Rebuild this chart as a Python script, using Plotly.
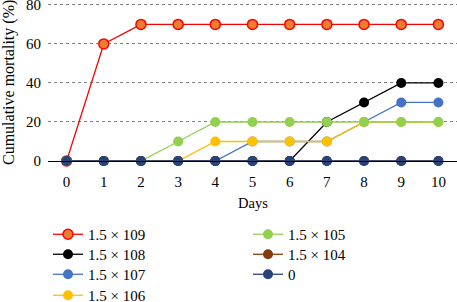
import plotly.graph_objects as go

days = list(range(11))
names = ["1.5 × 109", "1.5 × 108", "1.5 × 107", "1.5 × 106", "1.5 × 105", "1.5 × 104", "0"]
s109 = [0, 60, 70, 70, 70, 70, 70, 70, 70, 70, 70]
s108 = [0, 0, 0, 0, 0, 0, 0, 20, 30, 40, 40]
s107 = [0, 0, 0, 0, 0, 10, 10, 10, 20, 30, 30]
s106 = [0, 0, 0, 0, 10, 10, 10, 10, 20, 20, 20]
s105 = [0, 0, 0, 10, 20, 20, 20, 20, 20, 20, 20]
s104 = [0, 0, 0, 0, 0, 0, 0, 0, 0, 0, 0]
s0 = [0, 0, 0, 0, 0, 0, 0, 0, 0, 0, 0]
series = [s109, s108, s107, s106, s105, s104, s0]
y_ticks = [0, 20, 40, 60, 80]
line_colors = ["#FF0000", "#000000", "#4472C4", "#FFC000", "#92D050", "#843C0C", "#264478"]
fill_colors = ["#ED7D31", "#000000", "#4472C4", "#FFC000", "#92D050", "#843C0C", "#264478"]

FONT = "Liberation Serif"
W, H = 457, 302
L, R, T, B = 48, 0, 1, 141
PW, PH = W - L - R, H - T - B
leg_x = [48, 48, 48, 48, 248, 248, 248]
leg_y = [218, 238, 258, 279, 218, 238, 258]

fig = go.Figure()
layout_leg = {}
for i, (n, ys) in enumerate(zip(names, series)):
    key = "legend" if i == 0 else f"legend{i+1}"
    fig.add_trace(go.Scatter(
        x=days, y=ys, name=n, mode="lines+markers",
        line=dict(color=line_colors[i], width=1.3),
        marker=dict(size=10, color=fill_colors[i],
                    line=dict(color=line_colors[i], width=1.5 if i == 0 else 0)),
        cliponaxis=False,
        legend=key,
    ))
    layout_leg[key] = dict(xref="container", yref="container",
                           x=leg_x[i] / W, y=1 - leg_y[i] / H,
                           xanchor="left", yanchor="top",
                           bgcolor="rgba(0,0,0,0)",
                           font=dict(family=FONT, size=15))

fig.update_layout(
    width=W, height=H,
    margin=dict(l=L, r=R, t=T, b=B, autoexpand=False),
    paper_bgcolor="white", plot_bgcolor="white",
    font=dict(family=FONT, size=15, color="#000000"),
    showlegend=True,
    xaxis=dict(range=[-0.5, 10.5], tickvals=days, ticks="", showgrid=False,
               showline=True, linecolor="#000000", linewidth=1.3, zeroline=False,
               ticklabelstandoff=7, ticklabeloverflow="allow",
               tickfont=dict(size=15)),
    yaxis=dict(range=[0, 82], tickvals=y_ticks, ticks="",
               showgrid=True, gridcolor="#808080", griddash="dot", gridwidth=1,
               zeroline=False, showline=False, ticklabelstandoff=6,
               ticklabeloverflow="allow",
               tickfont=dict(size=15)),
    annotations=[
        dict(text="Days", xref="paper", yref="paper", x=0.5, y=(T + PH - 203) / PH,
             showarrow=False, xanchor="center", yanchor="middle",
             font=dict(family=FONT, size=14.5)),
        dict(text="Cumulative mortality (%)", xref="paper", yref="paper",
             x=(9 - L) / PW, y=(T + PH - 83) / PH, textangle=-90, showarrow=False,
             xanchor="center", yanchor="middle",
             font=dict(family=FONT, size=16)),
    ],
    **layout_leg,
)
fig.write_html("out.html")
